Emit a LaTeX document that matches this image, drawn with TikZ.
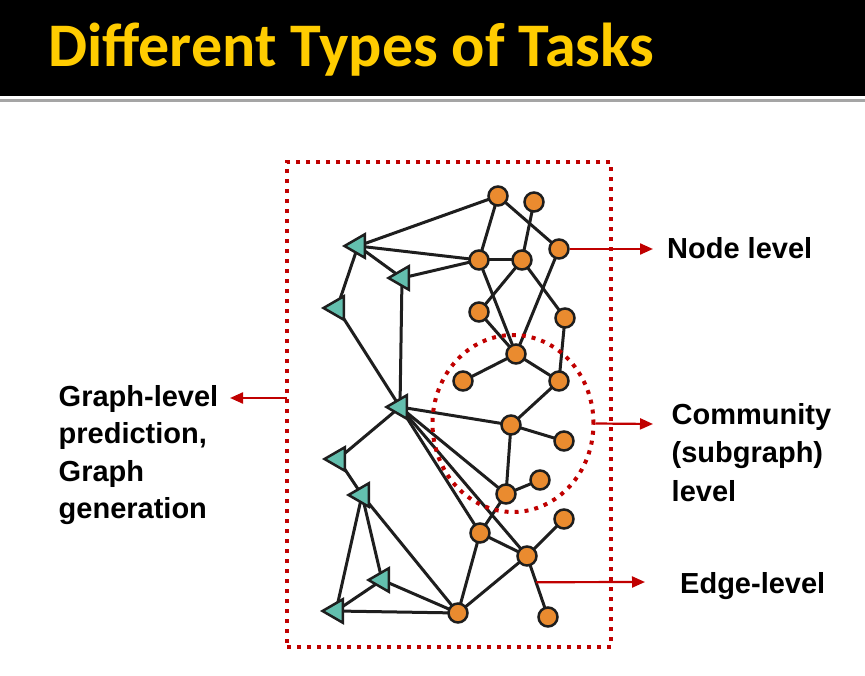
\documentclass[tikz,border=0pt]{standalone}
\usepackage{fontspec}
\setmainfont{Liberation Sans}
\newfontfamily\titlefont{Carlito}
\usetikzlibrary{shapes.geometric,arrows.meta,calc}
\definecolor{titleyellow}{RGB}{255,204,0}
\definecolor{nodeorange}{RGB}{234,139,47}
\definecolor{nodeteal}{RGB}{99,191,174}
\definecolor{markred}{RGB}{192,0,0}
\definecolor{edgegray}{RGB}{30,30,30}
\definecolor{ruleline}{RGB}{165,165,165}
\pgfdeclarelayer{bg}
\pgfsetlayers{bg,main}

\begin{document}
\begin{tikzpicture}[x=1pt,y=-1pt,
  vert/.style={circle,draw=edgegray,line width=2.5pt,fill=nodeorange,minimum size=19pt,inner sep=0pt},
  hub/.style={regular polygon,regular polygon sides=3,shape border rotate=90,draw=edgegray,line width=2.5pt,fill=nodeteal,minimum size=27pt,inner sep=0pt},
  link/.style={draw=edgegray,line width=3pt},
  dotline/.style={draw=markred,line width=4pt,dash pattern=on 4pt off 6pt},
  pointer/.style={draw=markred,line width=2.2pt,-{Triangle[length=13pt,width=11pt]}},
  tasktext/.style={font=\bfseries\fontsize{29}{37.5}\selectfont,anchor=base west,inner sep=0pt,align=left}
]
\useasboundingbox (0,0) rectangle (865,676);

% header band with title
\fill[black] (0,0) rectangle (865,96);
\fill[ruleline] (0,99.5) rectangle (865,102.5);
\node[font=\titlefont\bfseries\fontsize{62}{62}\selectfont,text=titleyellow,anchor=base west,inner sep=0pt] (title) at (48,67) {Different Types of Tasks};

% round vertices
\node[vert] (A) at (498,196) {};
\node[vert] (B) at (534,202) {};
\node[vert] (C) at (559,249) {};
\node[vert] (D) at (479,260) {};
\node[vert] (E) at (522,260) {};
\node[vert] (F) at (479,312) {};
\node[vert] (G) at (565,318) {};
\node[vert] (H) at (516,354) {};
\node[vert] (I) at (463,381) {};
\node[vert] (J) at (559,381) {};
\node[vert] (K) at (511,425) {};
\node[vert] (L) at (564,441) {};
\node[vert] (M) at (540,480) {};
\node[vert] (N) at (506,494) {};
\node[vert] (O) at (480,533) {};
\node[vert] (P) at (527,556) {};
\node[vert] (Q) at (564,519) {};
\node[vert] (R) at (458,613) {};
\node[vert] (S) at (548,617) {};

% triangular vertices
\node[hub] (T1) at (358,246) {};
\node[hub] (T2) at (402,278) {};
\node[hub] (T3) at (337,308) {};
\node[hub] (T4) at (400,407) {};
\node[hub] (T5) at (338,459) {};
\node[hub] (T6) at (362,495) {};
\node[hub] (T7) at (382,580) {};
\node[hub] (T8) at (336,611) {};

\begin{pgfonlayer}{bg}
  \foreach \a/\b in {A/T1,D/T1,D/T2,T1/T2,T1/T3,T2/T4,T3/T4,A/D,A/C,B/E,D/E,D/H,E/F,E/G,C/H,F/H,G/J,H/I,H/J,J/K,T4/K,K/L,K/N,N/M,T4/N,T4/O,T4/P,T4/T5,T5/T6,N/O,O/P,P/Q,O/R,P/R,P/S,T6/T8,T6/T7,T6/R,T7/R,T7/T8,T8/R}
    \draw[link] (\a.center) -- (\b.center);
  % community outline
  \node[ellipse,dotline,minimum width=161pt,minimum height=177pt,inner sep=0pt] (comm) at (513,423.5) {};
\end{pgfonlayer}

% whole-graph frame
\node[rectangle,dotline,minimum width=324pt,minimum height=485pt,inner sep=0pt] (frame) at (449,404.5) {};

% pointers to the task labels
\coordinate (nodetip) at (653,249);
\coordinate (commtip) at (653,424);
\coordinate (edgefoot) at ($(P)!0.43!(S)$);
\coordinate (edgetip) at (645,582);
\coordinate (graphfoot) at (287,398);
\coordinate (graphtip) at (230,398);
\draw[pointer] (C.east) -- (nodetip);
\draw[pointer] (comm.east) -- (commtip);
\draw[pointer] (edgefoot) -- (edgetip);
\draw[pointer] (graphfoot) -- (graphtip);

% task labels (base anchor of a multi-line label sits on its last line)
\node[tasktext] (nodelvl) at (667,259) {Node level};
\node[tasktext,font=\bfseries\fontsize{29}{38.5}\selectfont] (commlvl) at (671.5,501) {Community\\(subgraph)\\level};
\node[tasktext] (edgelvl) at (680,593) {Edge-level};
\node[tasktext,font=\bfseries\fontsize{29}{36.5}\selectfont] (graphlvl) at (58.5,518) {Graph-level\\prediction,\\[2pt]Graph\\generation};
\end{tikzpicture}
\end{document}
